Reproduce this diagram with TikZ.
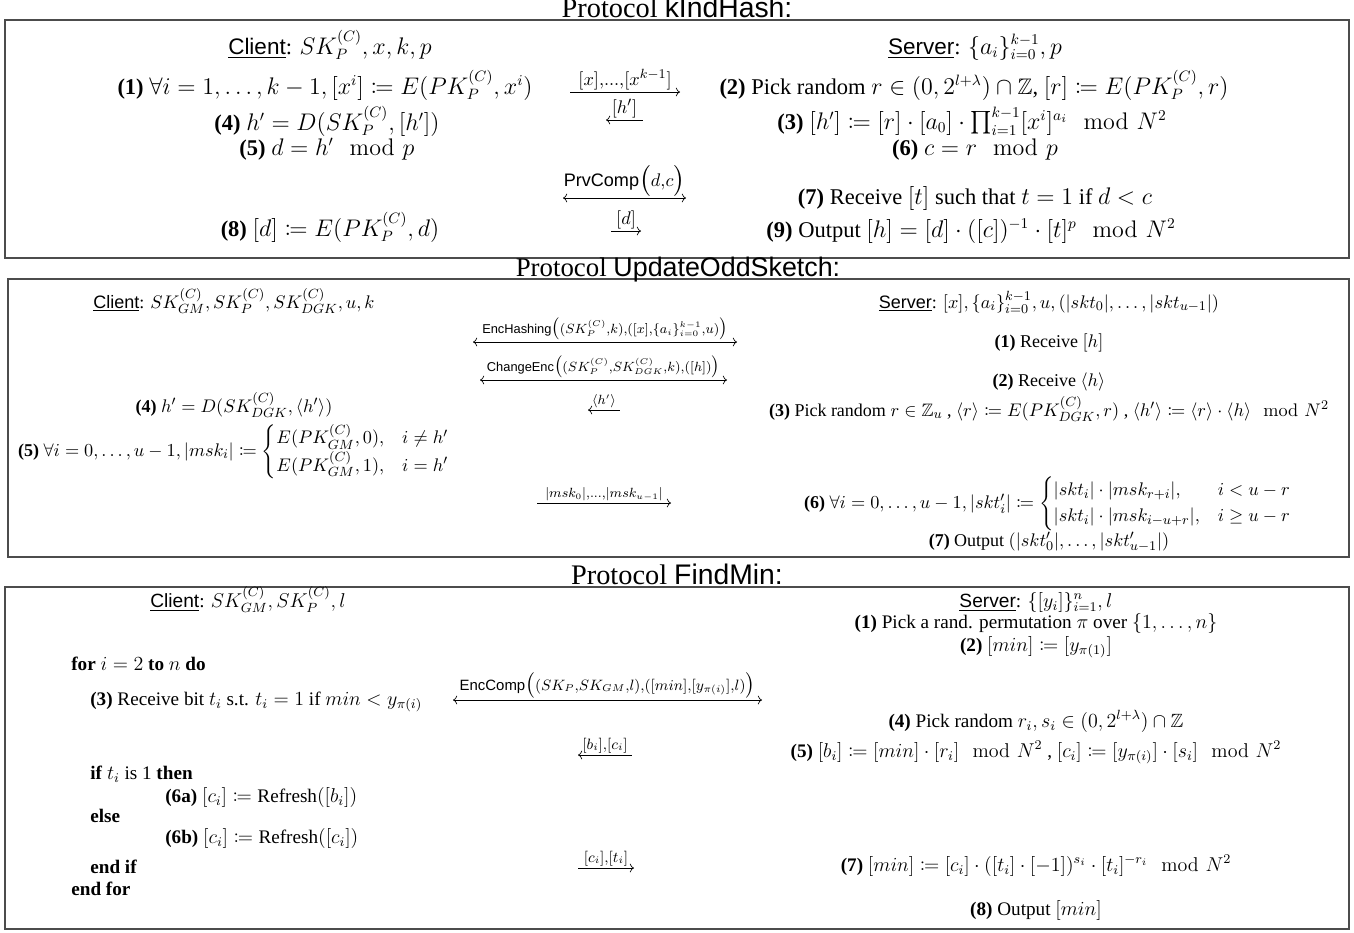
\documentclass[tikz,border=0pt]{standalone}
\usepackage{amsmath,amssymb,mathtools}
\usepackage[no-math]{fontspec}
\setmainfont{Liberation Serif}
\setsansfont{Liberation Sans}
\usetikzlibrary{arrows.meta}

\newcommand{\cli}{\underline{\textsf{Client}}}
\newcommand{\srv}{\underline{\textsf{Server}}}
\newcommand{\stp}[1]{\textbf{(#1)}}

\begin{document}
\begin{tikzpicture}[x=0.6pt, y=-0.6pt,
  boxline/.style={draw=black!70, line width=0.9pt},
  ttl/.style={font=\fontsize{17}{20}\selectfont, anchor=base, inner sep=0pt},
  ka/.style={font=\fontsize{13.5}{16}\selectfont, anchor=base, inner sep=0pt},
  ua/.style={font=\fontsize{10.8}{13}\selectfont, anchor=base, inner sep=0pt},
  fa/.style={font=\fontsize{11.5}{14}\selectfont, anchor=base, inner sep=0pt},
  msg/.style={line width=0.4pt},
  klbl/.style={font=\fontsize{15.5}{18}\selectfont, above, inner sep=1pt},
  ulbl/.style={font=\fontsize{11}{13}\selectfont, above, inner sep=1pt},
  flbl/.style={font=\fontsize{12.8}{15}\selectfont, above, inner sep=1pt}]
\useasboundingbox (0,0) rectangle (1354,932);

% kIndHash
\draw[boxline] (5,20) rectangle (1349,258);
\node[ttl] (kTitle) at (677,17) {Protocol \textsf{kIndHash:}};
\node[ka] (kC) at (330,54) {\cli: $SK_P^{(C)}, x, k, p$};
\node[ka] (k1) at (325,94) {\stp{1} $\forall i = 1,\ldots,k-1, [x^i] \coloneqq E(PK_P^{(C)},x^i)$};
\node[ka] (k4) at (327,130) {\stp{4} $h' = D(SK_P^{(C)},[h'])$};
\node[ka] (k5) at (327,155) {\stp{5} $d = h' \mod p$};
\node[ka] (k8) at (330,236) {\stp{8} $[d] \coloneqq E(PK_P^{(C)},d)$};
\node[ka] (kS) at (975,54) {\srv: $\{a_i\}_{i=0}^{k-1}, p$};
\node[ka] (k2) at (974,94) {\stp{2} Pick random $r \in (0,2^{l+\lambda}) \cap \mathbb{Z}$, $[r] \coloneqq E(PK_P^{(C)},r)$};
\node[ka] (k3) at (972,129) {\stp{3} $[h'] \coloneqq [r]\cdot[a_0]\cdot\prod_{i=1}^{k-1}[x^i]^{a_i} \mod N^2$};
\node[ka] (k6) at (975,155) {\stp{6} $c = r \mod p$};
\node[ka] (k7) at (975,204) {\stp{7} Receive $[t]$ such that $t = 1$ if $d < c$};
\node[ka] (k9) at (971,237) {\stp{9} Output $[h] = [d]\cdot([c])^{-1}\cdot[t]^p \mod N^2$};
\coordinate (ka1s) at (570,92);  \coordinate (ka1e) at (680,92);
\coordinate (ka2s) at (606,120); \coordinate (ka2e) at (643,120);
\coordinate (ka3s) at (563,198); \coordinate (ka3e) at (686,198);
\coordinate (ka4s) at (611,231); \coordinate (ka4e) at (641,231);
\draw[msg,->] (ka1s) -- node[klbl] {$\scriptstyle [x],\ldots,[x^{k-1}]$} (ka1e);
\draw[msg,<-] (ka2s) -- node[klbl] {$\scriptstyle [h']$} (ka2e);
\draw[msg,<->] (ka3s) -- node[klbl] {$\scriptstyle \textsf{PrvComp}\big(d,c\big)$} (ka3e);
\draw[msg,->] (ka4s) -- node[klbl] {$\scriptstyle [d]$} (ka4e);

% UpdateOddSketch
\draw[boxline] (8,279) rectangle (1349,557);
\node[ttl, font=\fontsize{16.1}{19}\selectfont] (uTitle) at (678,276) {Protocol \textsf{UpdateOddSketch:}};
\node[ua] (uC) at (234,308) {\cli: $SK_{GM}^{(C)}, SK_P^{(C)}, SK_{DGK}^{(C)}, u, k$};
\node[ua] (u4) at (234,412) {\stp{4} $h' = D(SK_{DGK}^{(C)},\langle h'\rangle)$};
\node[ua] (u5) at (234,456) {\stp{5} $\forall i = 0,\ldots,u-1, |msk_i| \coloneqq
  \begin{cases} E(PK_{GM}^{(C)},0), & i \neq h'\\ E(PK_{GM}^{(C)},1), & i = h' \end{cases}$};
\node[ua] (uS) at (1049,308) {\srv: $[x], \{a_i\}_{i=0}^{k-1}, u, (|skt_0|,\ldots,|skt_{u-1}|)$};
\node[ua] (u1) at (1049,347) {\stp{1} Receive $[h]$};
\node[ua] (u2) at (1049,386) {\stp{2} Receive $\langle h\rangle$};
\node[ua] (u3) at (1049,416) {\stp{3} Pick random $r \in \mathbb{Z}_u$ , $\langle r\rangle \coloneqq E(PK_{DGK}^{(C)},r)$ , $\langle h'\rangle \coloneqq \langle r\rangle\cdot\langle h\rangle \mod N^2$};
\node[ua] (u6) at (1048,508) {\stp{6} $\forall i = 0,\ldots,u-1, |skt'_i| \coloneqq
  \begin{cases} |skt_i|\cdot|msk_{r+i}|, & i < u-r\\ |skt_i|\cdot|msk_{i-u+r}|, & i \geq u-r \end{cases}$};
\node[ua] (u7) at (1049,546) {\stp{7} Output $(|skt'_0|,\ldots,|skt'_{u-1}|)$};
\coordinate (ua1s) at (473,342); \coordinate (ua1e) at (737,342);
\coordinate (ua2s) at (480,380); \coordinate (ua2e) at (727,380);
\coordinate (ua3s) at (588,410); \coordinate (ua3e) at (620,410);
\coordinate (ua4s) at (537,503); \coordinate (ua4e) at (671,503);
\draw[msg,<->] (ua1s) -- node[ulbl] {$\scriptstyle \textsf{EncHashing}\big((SK_P^{(C)},k),([x],\{a_i\}_{i=0}^{k-1},u)\big)$} (ua1e);
\draw[msg,<->] (ua2s) -- node[ulbl] {$\scriptstyle \textsf{ChangeEnc}\big((SK_P^{(C)},SK_{DGK}^{(C)},k),([h])\big)$} (ua2e);
\draw[msg,<-] (ua3s) -- node[ulbl] {$\scriptstyle \langle h'\rangle$} (ua3e);
\draw[msg,->] (ua4s) -- node[ulbl] {$\scriptstyle |msk_0|,\ldots,|msk_{u-1}|$} (ua4e);

% FindMin
\draw[boxline] (5,587) rectangle (1349,929);
\node[ttl] (fTitle) at (677,584) {Protocol \textsf{FindMin:}};
\node[fa] (fC) at (248,607) {\cli: $SK_{GM}^{(C)}, SK_P^{(C)}, l$};
\node[fa, anchor=base west] (fFor) at (71,670) {\textbf{for} $i = 2$ \textbf{to} $n$ \textbf{do}};
\node[fa, anchor=base west] (f3) at (90,705) {\stp{3} Receive bit $t_i$ s.t. $t_i = 1$ if $min < y_{\pi(i)}$};
\node[fa, anchor=base west] (fIf) at (90,779) {\textbf{if} $t_i$ is 1 \textbf{then}};
\node[fa, anchor=base west] (f6a) at (165,802) {\stp{6a} $[c_i] \coloneqq \text{Refresh}([b_i])$};
\node[fa, anchor=base west] (fElse) at (90,822) {\textbf{else}};
\node[fa, anchor=base west] (f6b) at (165,843) {\stp{6b} $[c_i] \coloneqq \text{Refresh}([c_i])$};
\node[fa, anchor=base west] (fEndIf) at (90,873) {\textbf{end if}};
\node[fa, anchor=base west] (fEndFor) at (71,895) {\textbf{end for}};
\node[fa] (fS) at (1036,607) {\srv: $\{[y_i]\}_{i=1}^n, l$};
\node[fa] (f1) at (1036,628) {\stp{1} Pick a rand. permutation $\pi$ over $\{1,\ldots,n\}$};
\node[fa] (f2) at (1036,651) {\stp{2} $[min] \coloneqq [y_{\pi(1)}]$};
\node[fa] (f4) at (1036,727) {\stp{4} Pick random $r_i, s_i \in (0,2^{l+\lambda}) \cap \mathbb{Z}$};
\node[fa] (f5) at (1036,757) {\stp{5} $[b_i] \coloneqq [min]\cdot[r_i] \mod N^2$ , $[c_i] \coloneqq [y_{\pi(i)}]\cdot[s_i] \mod N^2$};
\node[fa] (f7) at (1036,871) {\stp{7} $[min] \coloneqq [c_i]\cdot([t_i]\cdot[-1])^{s_i}\cdot[t_i]^{-r_i} \mod N^2$};
\node[fa] (f8) at (1036,915) {\stp{8} Output $[min]$};
\coordinate (fa1s) at (453,700); \coordinate (fa1e) at (762,700);
\coordinate (fa2s) at (578,755); \coordinate (fa2e) at (632,755);
\coordinate (fa3s) at (578,868); \coordinate (fa3e) at (634,868);
\draw[msg,<->] (fa1s) -- node[flbl] {$\scriptstyle \textsf{EncComp}\big((SK_P, SK_{GM}, l),([min],[y_{\pi(i)}],l)\big)$} (fa1e);
\draw[msg,<-] (fa2s) -- node[flbl] {$\scriptstyle [b_i],[c_i]$} (fa2e);
\draw[msg,->] (fa3s) -- node[flbl] {$\scriptstyle [c_i],[t_i]$} (fa3e);
\end{tikzpicture}
\end{document}
